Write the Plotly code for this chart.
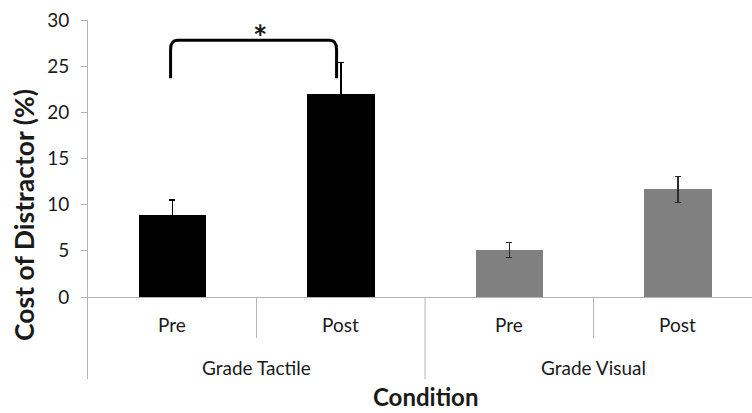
import plotly.graph_objects as go

# Data
groups = ["Grade Tactile", "Grade Visual"]
phases = ["Pre", "Post"]
tactile_cost = [8.9, 22.0]
tactile_err = [1.6, 3.4]
visual_cost = [5.1, 11.65]
visual_err = [0.8, 1.4]
y_ticks = [0, 5, 10, 15, 20, 25, 30]

FONT = "Lato"
TEXT = "#1a1a1a"
AXIS = "#b4b4b4"

n_phase = len(phases)
tactile_x = [i for i in range(n_phase)]
visual_x = [n_phase + i for i in range(n_phase)]
n_cat = len(groups) * n_phase

fig = go.Figure()
for xs, ys, errs, color, err_color in [
    (tactile_x, tactile_cost, tactile_err, "#000000", "#000000"),
    (visual_x, visual_cost, visual_err, "#808080", "#2b2b2b"),
]:
    fig.add_trace(go.Bar(
        x=xs, y=ys, width=0.4,
        marker=dict(color=color, line=dict(width=0)),
        error_y=dict(type="data", array=errs, visible=True,
                     color=err_color, thickness=1.5, width=3),
        showlegend=False,
    ))

# lower extent of the axis block (room for the category labels)
y_low = -8.88
y_top = max(y_ticks)

annotations = []
# phase labels
for i, x in enumerate(tactile_x + visual_x):
    annotations.append(dict(x=x, y=-3.03, xref="x", yref="y", text=phases[i % n_phase],
                            showarrow=False, font=dict(family=FONT, size=19, color=TEXT)))
# group labels
for g, name in enumerate(groups):
    annotations.append(dict(x=g * n_phase + (n_phase - 1) / 2, y=-7.58, xref="x", yref="y",
                            text=name, showarrow=False,
                            font=dict(family=FONT, size=19, color=TEXT)))
# axis titles
annotations.append(dict(x=(n_cat - 1) / 2, y=-0.095, xref="x", yref="paper",
                        text="<b>Condition</b>", showarrow=False,
                        xanchor="center", yanchor="bottom",
                        font=dict(family=FONT, size=24, color=TEXT)))
annotations.append(dict(x=-0.0964, y=0.457, xref="paper", yref="paper",
                        text="<b>Cost of Distractor (%)</b>", textangle=-90,
                        xanchor="center", yanchor="middle",
                        showarrow=False, font=dict(family=FONT, size=26.5, color=TEXT)))
# significance marker
annotations.append(dict(x=0.52, y=28.2, xref="x", yref="y", text="<b>*</b>",
                        showarrow=False, xanchor="center", yanchor="middle",
                        font=dict(family=FONT, size=34, color=TEXT)))

shapes = []
# category dividers below the zero line
for i in range(1, n_cat):
    bottom = y_low if i % n_phase == 0 else -4.44
    shapes.append(dict(type="line", xref="x", yref="y", x0=i - 0.5, x1=i - 0.5,
                       y0=0, y1=bottom, line=dict(color=AXIS, width=1)))

# significance bracket between Pre and Post of the tactile group
bx0, bx1 = -0.01, 0.975
by0, by1 = 23.7, 27.8
dx, dy = 0.04, 1.0
path = (f"M {bx0},{by0} L {bx0},{by1 - dy} Q {bx0},{by1} {bx0 + dx},{by1} "
        f"L {bx1 - dx},{by1} Q {bx1},{by1} {bx1},{by1 - dy} L {bx1},{by0}")
shapes.append(dict(type="path", xref="x", yref="y", path=path,
                   line=dict(color="#000000", width=3)))

fig.update_layout(
    width=752, height=413,
    margin=dict(l=88, r=0, t=20, b=34),
    paper_bgcolor="white", plot_bgcolor="white",
    bargap=0,
    xaxis=dict(range=[-0.5, 3.44], showticklabels=False, showgrid=False,
               zeroline=False, showline=False, ticks=""),
    yaxis=dict(range=[y_low, y_top], tickvals=y_ticks, showgrid=False,
               showline=True, linecolor=AXIS, linewidth=1,
               ticks="outside", ticklen=6, tickcolor=AXIS, ticklabelstandoff=8,
               zeroline=True, zerolinecolor=AXIS, zerolinewidth=1,
               tickfont=dict(family=FONT, size=19, color=TEXT)),
    annotations=annotations,
    shapes=shapes,
)

fig.write_html("out.html")
